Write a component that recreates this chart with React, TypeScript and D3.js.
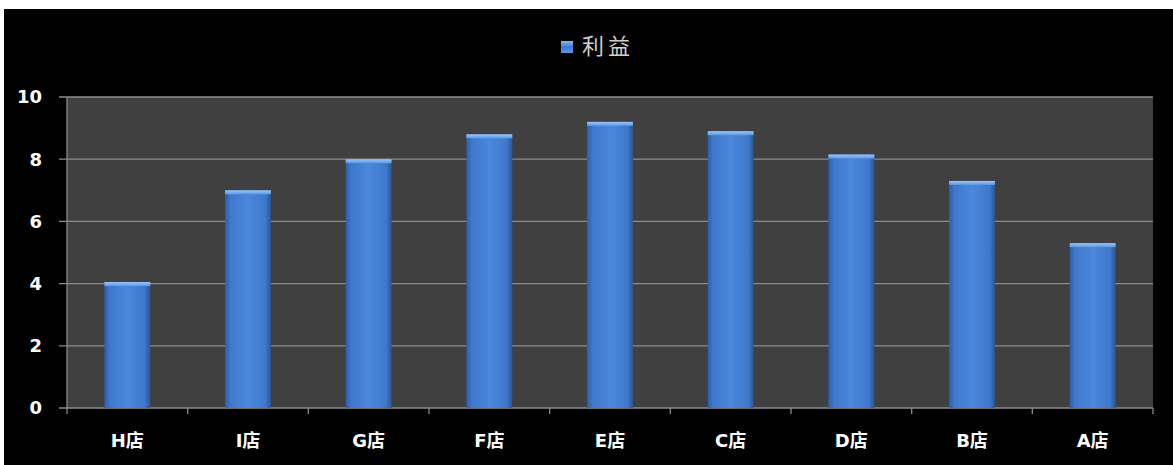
import React from "react";
import * as d3 from "d3";

const categories = ["H店", "I店", "G店", "F店", "E店", "C店", "D店", "B店", "A店"];
const profits = [4.05, 7.0, 8.0, 8.8, 9.2, 8.9, 8.15, 7.3, 5.3];
const yTicks = [0, 2, 4, 6, 8, 10];
const seriesName = "利益";

export default function App() {
  const W = 1173, H = 465;
  const left = 67, right = 1153, top = 97, bottom = 408;
  const x = d3.scaleBand<string>().domain(categories).range([left, right]).paddingInner(0.62).paddingOuter(0.31);
  const y = d3.scaleLinear().domain([0, 10]).range([bottom, top]);
  const font = "'DejaVu Sans', 'Noto Sans CJK SC', sans-serif";
  return (
    <div style={{ position: "fixed", left: 0, top: 0 }}>
      <svg width={W} height={H} style={{ display: "block" }}>
        <defs>
          <linearGradient id="barH" x1="0" x2="1" y1="0" y2="0">
            <stop offset="0" stopColor="#2e5fa6" />
            <stop offset="0.12" stopColor="#3f78cc" />
            <stop offset="0.5" stopColor="#4a88dc" />
            <stop offset="0.88" stopColor="#3f78cc" />
            <stop offset="1" stopColor="#2a5696" />
          </linearGradient>
          <linearGradient id="capG" x1="0" x2="0" y1="0" y2="1">
            <stop offset="0" stopColor="#9cc6f5" />
            <stop offset="1" stopColor="#5b98e6" />
          </linearGradient>
          <linearGradient id="legG" x1="0" x2="0" y1="0" y2="1">
            <stop offset="0" stopColor="#8ab8ef" />
            <stop offset="0.5" stopColor="#3f78cc" />
            <stop offset="1" stopColor="#5b98e6" />
          </linearGradient>
        </defs>
        <rect x={0} y={0} width={W} height={H} fill="#ffffff" />
        <rect x={4} y={9} width={W - 4} height={H - 9} fill="#000000" />
        <rect x={left} y={top} width={right - left} height={bottom - top} fill="#404040" />
        {yTicks.map((t) => (
          <g key={t}>
            <line x1={left - 8} x2={right} y1={y(t)} y2={y(t)} stroke="#8c8c8c" strokeWidth={1.3} />
            <text x={42} y={y(t)} dy="0.36em" textAnchor="end" fill="#ffffff" fontFamily={font} fontSize={18} fontWeight="bold">{t}</text>
          </g>
        ))}
        <line x1={left} x2={left} y1={top} y2={bottom} stroke="#8a8a8a" strokeWidth={1.3} />
        {categories.map((c, i) => {
          const cx = left + (i * (right - left)) / categories.length;
          return <line key={"t" + i} x1={cx} x2={cx} y1={bottom} y2={bottom + 6} stroke="#8a8a8a" strokeWidth={1.3} />;
        })}
        <line x1={right} x2={right} y1={bottom} y2={bottom + 6} stroke="#8a8a8a" strokeWidth={1.3} />
        {categories.map((c, i) => {
          const bx = x(c)!;
          const bw = x.bandwidth();
          const by = y(profits[i]);
          return (
            <g key={c}>
              <rect x={bx} y={by} width={bw} height={bottom - by} fill="url(#barH)" />
              <rect x={bx} y={by} width={bw} height={4} fill="url(#capG)" />
              <text x={bx + bw / 2} y={447} textAnchor="middle" fill="#ffffff" fontFamily={font} fontSize={18} fontWeight="bold">{c}</text>
            </g>
          );
        })}
        <rect x={561} y={41} width={12} height={12} fill="url(#legG)" />
        <text x={582} y={54} fill="#d0d0d0" fontFamily={font} fontSize={22} letterSpacing={4}>{seriesName}</text>
      </svg>
    </div>
  );
}
